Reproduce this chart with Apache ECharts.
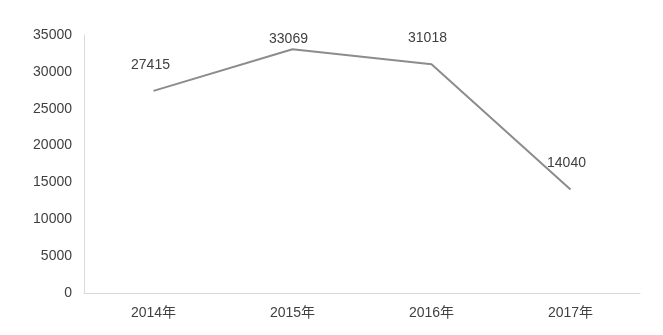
<!DOCTYPE html>
<html><head><meta charset="utf-8">
<script src="https://cdn.jsdelivr.net/npm/echarts@6/dist/echarts.min.js"></script>
<style>html,body{margin:0;padding:0;background:#fff}#c{width:663px;height:335px}</style>
</head><body><div id="c"></div>
<script>
const categories = ['2014年', '2015年', '2016年', '2017年'];
const values = [27415, 33069, 31018, 14040];
const yTicks = [0, 5000, 10000, 15000, 20000, 25000, 30000, 35000];

const labelOffsets = [[-3, 0], [-4, 16], [-4, 0], [-4, 0]];
const font = '"Liberation Sans", "Noto Sans CJK SC", sans-serif';
const chart = echarts.init(document.getElementById('c'), null, {renderer: 'canvas'});
chart.setOption({
  animation: false,
  grid: {left: 84, right: 23, top: 35, bottom: 42, containLabel: false},
  xAxis: {
    type: 'category', data: categories, boundaryGap: true,
    axisLine: {lineStyle: {color: '#d9d9d9', width: 1}},
    axisTick: {show: false},
    axisLabel: {color: '#404040', fontSize: 14, fontFamily: font, margin: 13}
  },
  yAxis: {
    type: 'value', min: yTicks[0], max: yTicks[yTicks.length - 1], interval: yTicks[1] - yTicks[0],
    axisLine: {show: true, lineStyle: {color: '#d9d9d9', width: 1}},
    axisTick: {show: false},
    splitLine: {show: false},
    axisLabel: {color: '#404040', fontSize: 14, fontFamily: font, margin: 12, formatter: v => String(v)}
  },
  series: [{
    type: 'line',
    data: values.map((v, i) => ({value: v, label: {offset: labelOffsets[i]}})),
    symbol: 'circle', symbolSize: 2, showSymbol: true,
    itemStyle: {color: 'rgba(0,0,0,0)', borderWidth: 0},
    lineStyle: {color: '#8c8c8c', width: 2},
    label: {show: true, position: 'top', distance: 18, color: '#404040', fontSize: 14, fontFamily: font}
  }]
});
</script></body></html>
